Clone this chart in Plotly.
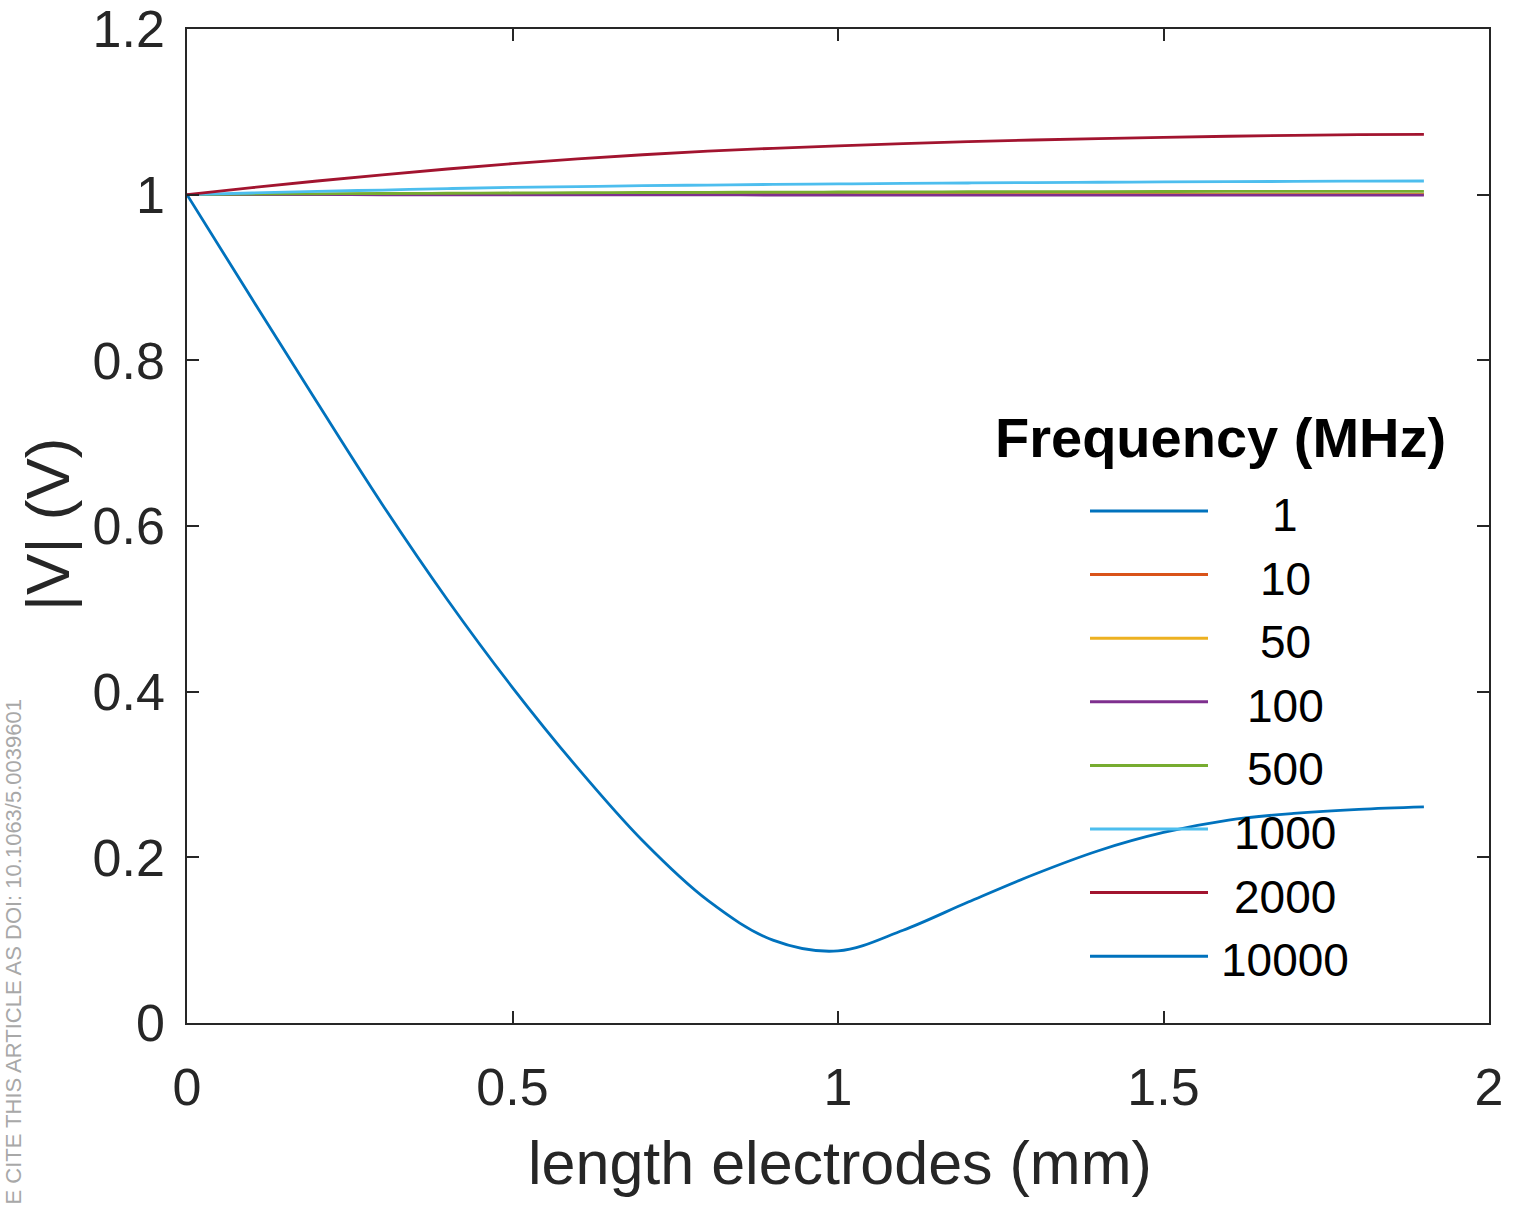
import plotly.graph_objects as go

# ---- data ----
length_mm = [0.0, 0.1, 0.2, 0.3, 0.4, 0.5, 0.6, 0.7, 0.8, 0.9,
             1.0, 1.1, 1.2, 1.3, 1.4, 1.5, 1.6, 1.7, 1.8, 1.9]

freq_labels = ["1", "10", "50", "100", "500", "1000", "2000", "10000"]
colors = ["#0072BD", "#D95319", "#EDB120", "#7E2F8E",
          "#77AC30", "#4DBEEE", "#A2142F", "#0072BD"]

v_1 = [1.0] * 20
v_10 = [1.0] * 20
v_50 = [1.0] * 20
v_100 = [1.0, 1.0, 1.0, 0.9999, 0.9999, 0.9998, 0.9998, 0.9997, 0.9997, 0.9996,
         0.9996, 0.9995, 0.9995, 0.9995, 0.9994, 0.9994, 0.9994, 0.9994, 0.9994, 0.9994]
v_500 = [1.0, 1.0006, 1.001, 1.0014, 1.0017, 1.002, 1.0023, 1.0026, 1.0028, 1.003,
         1.0032, 1.0034, 1.0035, 1.0036, 1.0037, 1.0038, 1.0039, 1.0039, 1.004, 1.004]
v_1000 = [1.0, 1.002, 1.004, 1.0056, 1.0073, 1.0088, 1.0098, 1.0108, 1.0116, 1.0124,
          1.013, 1.0136, 1.0141, 1.0146, 1.015, 1.0154, 1.0157, 1.016, 1.0163, 1.0165]
v_2000 = [1.0, 1.0085, 1.0165, 1.024, 1.031, 1.0375, 1.0432, 1.0482, 1.0525, 1.056,
          1.059, 1.0617, 1.064, 1.066, 1.0677, 1.0692, 1.0705, 1.0716, 1.0724, 1.0728]
v_10000 = [1.0, 0.874, 0.749, 0.626, 0.511, 0.405, 0.308, 0.220, 0.148, 0.100,
           0.087, 0.112, 0.146, 0.179, 0.208, 0.230, 0.245, 0.253, 0.258, 0.261]

series = [v_1, v_10, v_50, v_100, v_500, v_1000, v_2000, v_10000]

# ---- figure ----
fig = go.Figure()
for name, col, vals in zip(freq_labels, colors, series):
    fig.add_trace(go.Scatter(x=length_mm, y=vals, mode="lines", name=name,
                             line=dict(color=col, width=2.8, shape="spline", smoothing=1.0),
                             showlegend=False))

W, H = 1522, 1207
L, R, T, B = 187, 1489, 29, 1023

def px(xp):
    return (xp - L) / (R - L)

def py(yp):
    return (B - yp) / (B - T)

axis_common = dict(showline=True, linecolor="#262626", linewidth=1.5, mirror="ticks",
                   ticks="inside", ticklen=12, tickwidth=1.5, tickcolor="#262626",
                   showgrid=False, zeroline=False, automargin=False,
                   tickfont=dict(family="Liberation Sans, Arial", size=52, color="#262626"))

fig.update_xaxes(range=[0, 2], tickvals=[0, 0.5, 1, 1.5, 2],
                 ticktext=["0", "0.5", "1", "1.5", "2"], ticklabelstandoff=18,
                 **axis_common)
fig.update_yaxes(range=[0, 1.2], tickvals=[0, 0.2, 0.4, 0.6, 0.8, 1, 1.2],
                 ticktext=["0", "0.2", "0.4", "0.6", "0.8", "1", "1.2"], ticklabelstandoff=10,
                 **axis_common)

annotations = []
shapes = []
# axis titles
annotations.append(dict(text="length electrodes (mm)", xref="paper", yref="paper",
                        x=px(840), y=py(1163), xanchor="center", yanchor="middle",
                        showarrow=False,
                        font=dict(family="Liberation Sans, Arial", size=61, color="#262626")))
annotations.append(dict(text="|V| (V)", xref="paper", yref="paper",
                        x=px(47), y=py(525), xanchor="center", yanchor="middle",
                        textangle=-90, showarrow=False,
                        font=dict(family="Liberation Sans, Arial", size=62, color="#262626")))
# legend (transparent box, MATLAB style)
annotations.append(dict(text="<b>Frequency (MHz)</b>", xref="paper", yref="paper",
                        x=px(1220), y=py(437), xanchor="center", yanchor="middle",
                        showarrow=False,
                        font=dict(family="Liberation Sans, Arial", size=56, color="#000000")))
row0, drow = 511, 63.6
for i, (name, col) in enumerate(zip(freq_labels, colors)):
    yy = row0 + i * drow
    shapes.append(dict(type="line", xref="paper", yref="paper",
                       x0=px(1090), x1=px(1208), y0=py(yy), y1=py(yy),
                       line=dict(color=col, width=3), layer="above"))
    annotations.append(dict(text=name, xref="paper", yref="paper",
                            x=px(1285), y=py(yy + 4), xanchor="center", yanchor="middle",
                            showarrow=False,
                            font=dict(family="Liberation Sans, Arial", size=46, color="#000000")))
# side watermark
annotations.append(dict(text="E CITE THIS ARTICLE AS DOI: 10.1063/5.0039601",
                        xref="paper", yref="paper",
                        x=px(13), y=py(1207), xanchor="center", yanchor="bottom",
                        textangle=-90, showarrow=False,
                        font=dict(family="Liberation Sans Narrow, Liberation Sans, Arial",
                                  size=22, color="#a8a8a8")))

fig.update_layout(width=W, height=H,
                  margin=dict(l=L, r=W - R, t=T, b=H - B, pad=0, autoexpand=False),
                  plot_bgcolor="white", paper_bgcolor="white",
                  showlegend=False, annotations=annotations, shapes=shapes)

fig.write_html("out.html")
